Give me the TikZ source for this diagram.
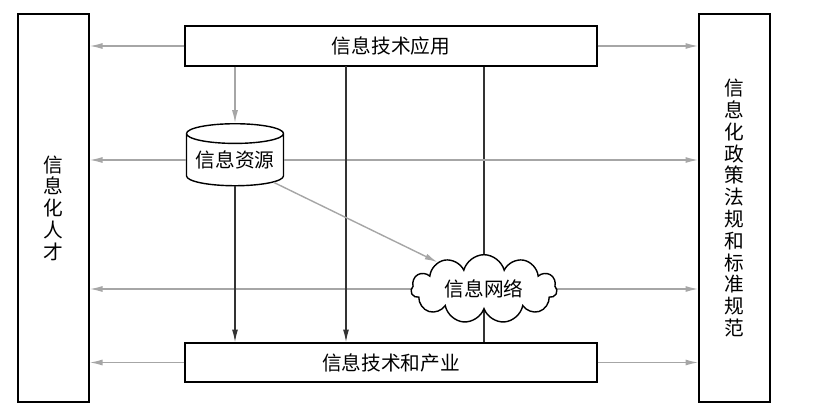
\documentclass[tikz,border=0pt]{standalone}
\usepackage{fontspec}
\newfontfamily\cjk{Noto Sans CJK SC}
\usetikzlibrary{arrows.meta,positioning,shapes.geometric,shapes.symbols,backgrounds}

\begin{document}
\begin{tikzpicture}[
    x=0.025cm, y=-0.025cm,
    font=\cjk\fontsize{14}{15.5}\selectfont,
    >={Latex[length=3.2mm,width=1.5mm]},
    box/.style={draw, line width=1pt, align=center, inner sep=0pt},
    side/.style={draw, line width=1pt, align=center, inner sep=0pt,
                 minimum width=71*0.025cm, minimum height=388*0.025cm},
    link/.style={line width=1pt, gray!70},
    flow/.style={line width=1pt, black!80},
]
\useasboundingbox (0,0) rectangle (814,416);

%% ---- side columns ----
\node[side] (talent) at (53.5,208)  {信\\息\\化\\人\\才};
\node[side] (policy) at (734.5,208) {信\\息\\化\\政\\策\\法\\规\\和\\标\\准\\规\\范};

%% ---- middle column ----
\node[box, minimum width=412*0.025cm, minimum height=40*0.025cm]
    (app) at (391,46) {信息技术应用};
\node[box, minimum width=412*0.025cm, minimum height=39*0.025cm]
    (ind) at (391,362.5) {信息技术和产业};
\node[draw, line width=1pt, fill=white, cylinder, shape border rotate=90, aspect=0.25,
      minimum width=97*0.025cm, minimum height=62*0.025cm, inner sep=0pt]
    (res) at (235,160) {信息资源};
\node[draw, line width=1pt, fill=white, cloud, cloud puffs=11, aspect=2.4,
      minimum width=146*0.025cm, minimum height=60*0.025cm, inner sep=0pt]
    (net) at (484,289) {信息网络};
\coordinate (mid) at (346,66);

%% ---- horizontal links to the side columns ----
\draw[->,link] (app.west) -- (app.west -| talent.east);
\draw[->,link] (app.east) -- (app.east -| policy.west);
\draw[->,link] (res.west) -- (res.west -| talent.east);
\draw[->,link] (res.east) -- (res.east -| policy.west);
\draw[->,link] (ind.west) -- (ind.west -| talent.east);
\draw[->,link] (ind.east) -- (ind.east -| policy.west);

%% ---- vertical flows ----
\draw[->,link] (res.north |- app.south) -- (res.north);
\draw[->,flow] (res.south) -- (res.south |- ind.north);
\draw[->,flow] (mid) -- (mid |- ind.north);

%% ---- lines meeting the cloud (kept behind it) ----
\begin{scope}[on background layer]
\draw[->,link] (net.center) -- (net.center -| talent.east);
\draw[->,link] (net.center) -- (net.center -| policy.west);
\draw[flow] (net.center |- app.south) -- (net.center |- ind.north);
\end{scope}

%% ---- resource to network ----
\draw[->,link] (res.-30) -- (net.150);

\end{tikzpicture}
\end{document}
